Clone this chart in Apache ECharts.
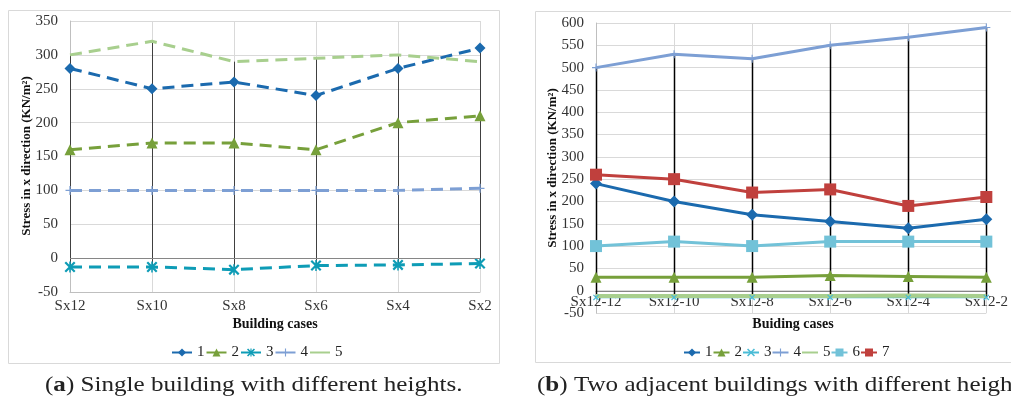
<!DOCTYPE html>
<html>
<head>
<meta charset="utf-8">
<script src="https://cdn.jsdelivr.net/npm/echarts@6/dist/echarts.min.js"></script>
<style>
  html, body { margin: 0; padding: 0; background: #fff; overflow: hidden; }
  #wrap { position: relative; width: 1011px; height: 399px; }
  #chartA { position: absolute; left: 0; top: 0; width: 505px; height: 399px; }
  #chartB { position: absolute; left: 505px; top: 0; width: 506px; height: 399px; }
</style>
</head>
<body>
<div id="wrap">
  <div id="chartA"></div>
  <div id="chartB"></div>
</div>
<script>
// ---- (a) single building, stress per building case ----
const casesA = ['Sx12', 'Sx10', 'Sx8', 'Sx6', 'Sx4', 'Sx2'];
const a1 = [280, 250, 260, 240, 280, 310];
const a2 = [160, 170, 170, 160, 200, 210];
const a3 = [-13, -13, -17, -11, -10, -8];
const a4 = [100, 100, 100, 100, 100, 103];
const a5 = [300, 320, 290, 295, 300, 290];

// ---- (b) two adjacent buildings ----
const casesB = ['Sx12-12', 'Sx12-10', 'Sx12-8', 'Sx12-6', 'Sx12-4', 'Sx12-2'];
const b1 = [240, 200, 170, 155, 140, 160];
const b2 = [30, 30, 30, 34, 32, 30];
const b3 = [-15, -15, -15, -15, -15, -15];
const b4 = [500, 530, 520, 550, 568, 590];
const b5 = [-12, -12, -12, -12, -11, -12];
const b6 = [100, 110, 100, 110, 110, 110];
const b7 = [260, 250, 220, 227, 190, 210];

const SERIF = 'Liberation Serif';
const C = {
  blue: '#1b6aae', green: '#77a03b', teal: '#0e9cb6', lblue: '#7d9fd4',
  lgreen: '#a8cf8e', cyan: '#72c2d8', red: '#c0403d', cyanThin: '#4bbcd6'
};

// Filled glyphs used as point markers
const PLUS = 'path://M4.3,0H5.7V4.3H10V5.7H5.7V10H4.3V5.7H0V4.3H4.3Z';
const CROSS = 'path://M0,1.4L1.4,0L10,8.6L8.6,10Z M8.6,0L10,1.4L1.4,10L0,8.6Z';
const ASTER = 'path://M0,1.4L1.4,0L10,8.6L8.6,10Z M8.6,0L10,1.4L1.4,10L0,8.6Z M4.3,0L5.7,0L5.7,10L4.3,10Z';

// Vertical high-low line for each category, spanning all series
function hiLo(lists) {
  return lists[0].map((_, i) => {
    const vals = lists.map(l => l[i]);
    return [i, Math.min(...vals), Math.max(...vals)];
  });
}
function hiLoSeries(lists, color, width) {
  return {
    type: 'custom', silent: true, z: 1,
    data: hiLo(lists),
    renderItem: function (params, api) {
      const p0 = api.coord([api.value(0), api.value(1)]);
      const p1 = api.coord([api.value(0), api.value(2)]);
      return {
        type: 'line',
        shape: { x1: Math.round(p0[0]) + 0.5, y1: p0[1], x2: Math.round(p1[0]) + 0.5, y2: p1[1] },
        style: { stroke: color, lineWidth: width }
      };
    }
  };
}

function line(name, data, color, symbol, size, opts) {
  return Object.assign({
    name: name, type: 'line', data: data, z: 3,
    symbol: symbol, symbolSize: size, showSymbol: symbol !== 'none',
    itemStyle: { color: color },
    lineStyle: { color: color, width: 3 }
  }, opts || {});
}

function caption(x, y, letter, text) {
  return {
    type: 'text', x: x, y: y, scaleX: 1.14,
    style: {
      text: '{r|(}{b|' + letter + '}{r|) ' + text + '}',
      verticalAlign: 'middle',
      rich: {
        r: { fontFamily: SERIF, fontSize: 22, fill: '#222' },
        b: { fontFamily: SERIF, fontSize: 22, fontWeight: 'bold', fill: '#222' }
      }
    }
  };
}

// legend entries; the plain-line series shows no marker in the key
function legendItems(names, plain) {
  return names.map(n => n === plain ? { name: n, itemStyle: { opacity: 0 } } : n);
}

const axisLabelStyle = { fontFamily: SERIF, fontSize: 15, color: '#333' };
const gridLine = { lineStyle: { color: '#d9d9d9', width: 1 } };

// ---------------- chart (a) ----------------
const dashA = { width: 3, type: [12, 7] };
const chartA = echarts.init(document.getElementById('chartA'), null, { renderer: 'canvas' });
chartA.setOption({
  animation: false,
  grid: { left: 70, right: 25, top: 21, bottom: 107 },
  xAxis: {
    type: 'category', data: casesA, boundaryGap: false,
    axisLine: { onZero: false, lineStyle: { color: '#bfbfbf' } },
    axisTick: { show: false },
    axisLabel: Object.assign({ margin: 7 }, axisLabelStyle),
    splitLine: Object.assign({ show: true }, gridLine)
  },
  yAxis: {
    type: 'value', min: -50, max: 350, interval: 50,
    axisLine: { show: true, lineStyle: { color: '#bfbfbf' } },
    axisTick: { show: false },
    axisLabel: Object.assign({ margin: 12 }, axisLabelStyle),
    splitLine: gridLine
  },
  legend: {
    top: 340, left: 166, itemWidth: 20, itemHeight: 10, itemGap: 1,
    textStyle: { fontFamily: SERIF, fontSize: 15, color: '#222' },
    lineStyle: { type: 'solid' },
    data: legendItems(['1', '2', '3', '4', '5'], '5')
  },
  graphic: [
    { type: 'rect', shape: { x: 8.5, y: 10.5, width: 491, height: 353 },
      style: { fill: 'none', stroke: '#d9d9d9', lineWidth: 1 }, silent: true, z: -10 },
    { type: 'text', x: 27, y: 156, rotation: Math.PI / 2,
      style: { text: 'Stress in x direction (KN/m²)', fontFamily: SERIF, fontSize: 13,
               fontWeight: 'bold', fill: '#111', align: 'center', verticalAlign: 'middle' } },
    { type: 'text', x: 275, y: 324,
      style: { text: 'Building cases', fontFamily: SERIF, fontSize: 14,
               fontWeight: 'bold', fill: '#111', align: 'center', verticalAlign: 'middle' } },
    caption(45, 385, 'a', 'Single building with different heights.')
  ],
  series: [
    Object.assign(hiLoSeries([a1, a2, a3, a4, a5], '#404040', 1), {
      markLine: {
        silent: true, symbol: 'none', label: { show: false },
        lineStyle: { color: '#868686', width: 1, type: 'solid' },
        data: [{ yAxis: 0 }]
      }
    }),
    line('1', a1, C.blue, 'diamond', 11, { lineStyle: Object.assign({ color: C.blue }, dashA) }),
    line('2', a2, C.green, 'triangle', 11, { lineStyle: Object.assign({ color: C.green }, dashA) }),
    line('3', a3, C.teal, ASTER, 11, { lineStyle: Object.assign({ color: C.teal }, dashA) }),
    line('4', a4, C.lblue, PLUS, 9, { lineStyle: Object.assign({ color: C.lblue }, dashA) }),
    line('5', a5, C.lgreen, 'none', 0, { lineStyle: Object.assign({ color: C.lgreen }, dashA) })
  ]
});

// ---------------- chart (b) ----------------
const chartB = echarts.init(document.getElementById('chartB'), null, { renderer: 'canvas' });
chartB.setOption({
  animation: false,
  grid: { left: 91, right: 20, top: 23, bottom: 86 },
  xAxis: {
    type: 'category', data: casesB, boundaryGap: false,
    // category axis crosses the value axis at 0
    offset: -22,
    axisLine: { onZero: false, lineStyle: { color: '#868686' } },
    axisTick: { show: false },
    axisLabel: Object.assign({ margin: 4 }, axisLabelStyle),
    splitLine: Object.assign({ show: true }, gridLine)
  },
  yAxis: {
    type: 'value', min: -50, max: 600, interval: 50,
    axisLine: { show: true, lineStyle: { color: '#bfbfbf' } },
    axisTick: { show: false },
    axisLabel: Object.assign({ margin: 12 }, axisLabelStyle),
    splitLine: gridLine
  },
  legend: {
    top: 340, left: 173, itemWidth: 16, itemHeight: 10, itemGap: 0,
    textStyle: { fontFamily: SERIF, fontSize: 15, color: '#222' },
    lineStyle: { type: 'solid' },
    data: legendItems(['1', '2', '3', '4', '5', '6', '7'], '5')
  },
  graphic: [
    { type: 'rect', shape: { x: 30.5, y: 11.5, width: 600, height: 351 },
      style: { fill: 'none', stroke: '#d9d9d9', lineWidth: 1 }, silent: true, z: -10 },
    { type: 'text', x: 48, y: 168, rotation: Math.PI / 2,
      style: { text: 'Stress in x direction (KN/m²)', fontFamily: SERIF, fontSize: 13,
               fontWeight: 'bold', fill: '#111', align: 'center', verticalAlign: 'middle' } },
    { type: 'text', x: 288, y: 324,
      style: { text: 'Buiding cases', fontFamily: SERIF, fontSize: 14,
               fontWeight: 'bold', fill: '#111', align: 'center', verticalAlign: 'middle' } },
    caption(32, 385, 'b', 'Two adjacent buildings with different heights.')
  ],
  series: [
    hiLoSeries([b1, b2, b3, b4, b5, b6, b7], '#000000', 1.5),
    line('1', b1, C.blue, 'diamond', 12),
    line('2', b2, C.green, 'triangle', 11),
    line('3', b3, C.cyanThin, CROSS, 6, { lineStyle: { color: C.cyanThin, width: 1.5 } }),
    line('4', b4, C.lblue, PLUS, 8),
    line('5', b5, C.lgreen, 'none', 0, { lineStyle: { color: C.lgreen, width: 4 } }),
    line('6', b6, C.cyan, 'rect', 12),
    line('7', b7, C.red, 'rect', 12)
  ]
});
</script>
</body>
</html>
